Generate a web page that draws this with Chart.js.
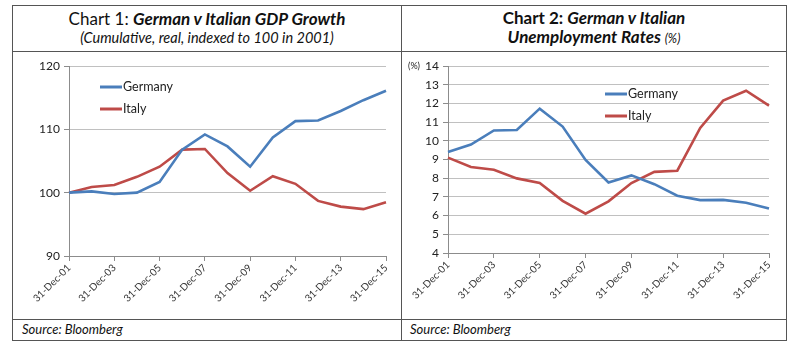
<!DOCTYPE html>
<html>
<head>
<meta charset="utf-8">
<script src="https://cdn.jsdelivr.net/npm/chart.js@4"></script>
<style>
  body { margin: 0; background: #fff; width: 800px; height: 350px; position: relative; font-family: Lato, "Open Sans", sans-serif; }
  .box { position: absolute; border: 1px solid #555; box-sizing: border-box; }
  .title { position: absolute; left: 0; right: 0; text-align: center; color: #111; white-space: nowrap; }
  .src { position: absolute; font-style: italic; font-size: 13px; color: #111; }
  .cv { position: absolute; }
</style>
</head>
<body>
<!-- outer frames -->
<div class="box" style="left:12px;top:5px;width:390px;height:336px;"></div>
<div class="box" style="left:401px;top:5px;width:386px;height:336px;"></div>
<div class="box" style="left:12px;top:51px;width:775px;height:269px;border-left:none;border-right:none;"></div>

<div class="title" style="left:12px;width:390px;top:8px;font-size:17px;">Chart 1: <b><i>German v Italian GDP Growth</i></b></div>
<div class="title" style="left:12px;width:390px;top:29px;font-size:14.5px;font-style:italic;">(Cumulative, real, indexed to 100 in 2001)</div>
<div class="title" style="left:401px;width:386px;top:7px;font-size:17px;font-weight:bold;">Chart 2: <i>German v Italian</i></div>
<div class="title" style="left:401px;width:386px;top:26px;font-size:17px;font-weight:bold;font-style:italic;">Unemployment Rates <span style="font-size:12.5px;font-weight:normal;">(%)</span></div>

<div class="src" style="left:22px;top:321px;">Source: Bloomberg</div>
<div class="src" style="left:410px;top:321px;">Source: Bloomberg</div>

<div class="cv" style="left:13px;top:52px;width:387px;height:266px;"><canvas id="c1"></canvas></div>
<div class="cv" style="left:402px;top:52px;width:384px;height:266px;"><canvas id="c2"></canvas></div>

<script>
const dates = ['31-Dec-01','31-Dec-02','31-Dec-03','31-Dec-04','31-Dec-05','31-Dec-06','31-Dec-07','31-Dec-08',
  '31-Dec-09','31-Dec-10','31-Dec-11','31-Dec-12','31-Dec-13','31-Dec-14','31-Dec-15'];

const gdpGermany = [100, 100.2, 99.8, 100.0, 101.7, 106.8, 109.2, 107.3, 104.1, 108.7, 111.3, 111.4, 112.9, 114.6, 116.1];
const gdpItaly = [100, 100.9, 101.2, 102.5, 104.1, 106.8, 106.9, 103.1, 100.3, 102.6, 101.4, 98.7, 97.8, 97.4, 98.5];

const unempGermany = [9.4, 9.8, 10.55, 10.58, 11.72, 10.76, 8.98, 7.77, 8.15, 7.68, 7.06, 6.83, 6.84, 6.69, 6.38];
const unempItaly = [9.1, 8.6, 8.45, 7.99, 7.74, 6.79, 6.1, 6.76, 7.74, 8.34, 8.4, 10.69, 12.15, 12.68, 11.88];

const blue = '#4a7ebb', red = '#be4b48';
const axisGrey = '#8c8c8c', gridGrey = '#c0c0c0';

// legend drawn inside the plot, like the excel original
function innerLegend(dx, dy) {
  return {
    id: 'innerLegend',
    afterDraw(chart) {
      const ctx = chart.ctx, a = chart.chartArea;
      chart.data.datasets.forEach((ds, i) => {
        const x = a.left + dx, y = a.top + dy + i * 22;
        ctx.save();
        ctx.strokeStyle = ds.borderColor;
        ctx.lineWidth = 3;
        ctx.beginPath(); ctx.moveTo(x, y); ctx.lineTo(x + 22, y); ctx.stroke();
        ctx.fillStyle = '#222';
        ctx.font = '12.5px Lato, sans-serif';
        ctx.textBaseline = 'middle';
        ctx.fillText(ds.label, x + 23, y);
        ctx.restore();
      });
    }
  };
}

const pctLabel = {
  id: 'pctLabel',
  afterDraw(chart) {
    const ctx = chart.ctx, a = chart.chartArea;
    ctx.save();
    ctx.fillStyle = '#222';
    ctx.font = '9px Lato, sans-serif';
    ctx.textBaseline = 'middle';
    ctx.fillText('(%)', a.left - 40, a.top);
    ctx.restore();
  }
};

function makeChart(id, ger, ita, yMin, yMax, step, yWidth, xHeight, padRight, legend, extra) {
  return new Chart(document.getElementById(id), {
    type: 'line',
    data: {
      labels: dates,
      datasets: [
        { label: 'Germany', data: ger, borderColor: blue, borderWidth: 2.6, pointRadius: 0, tension: 0 },
        { label: 'Italy', data: ita, borderColor: red, borderWidth: 2.6, pointRadius: 0, tension: 0 }
      ]
    },
    options: {
      responsive: true,
      maintainAspectRatio: false,
      animation: false,
      layout: { autoPadding: false, padding: { top: 14, right: padRight, left: 0, bottom: 0 } },
      plugins: { legend: { display: false }, tooltip: { enabled: false } },
      scales: {
        x: {
          offset: false,
          grid: {
            drawOnChartArea: false,
            tickLength: 5,
            color: c => (c.index % 2 === 0 ? axisGrey : 'rgba(0,0,0,0)')
          },
          border: { color: axisGrey },
          ticks: {
            autoSkip: false,
            minRotation: 45,
            maxRotation: 45,
            padding: 1,
            color: '#333',
            font: { family: 'Lato', size: 10 },
            callback: (v, i) => (i % 2 === 0 ? dates[i] : '')
          },
          afterFit: s => { s.height = xHeight; }
        },
        y: {
          min: yMin,
          max: yMax,
          ticks: { stepSize: step, color: '#222', padding: 4, font: { family: 'Lato', size: 12 } },
          grid: { color: gridGrey, tickLength: 5, tickColor: axisGrey },
          border: { color: axisGrey },
          afterFit: s => { s.width = yWidth; }
        }
      }
    },
    plugins: [legend].concat(extra)
  });
}

makeChart('c1', gdpGermany, gdpItaly, 90, 120, 10, 56, 62, 14, innerLegend(31, 21), []);
makeChart('c2', unempGermany, unempItaly, 4, 14, 1, 46, 65, 17, innerLegend(157, 28), [pctLabel]);
</script>
</body>
</html>
